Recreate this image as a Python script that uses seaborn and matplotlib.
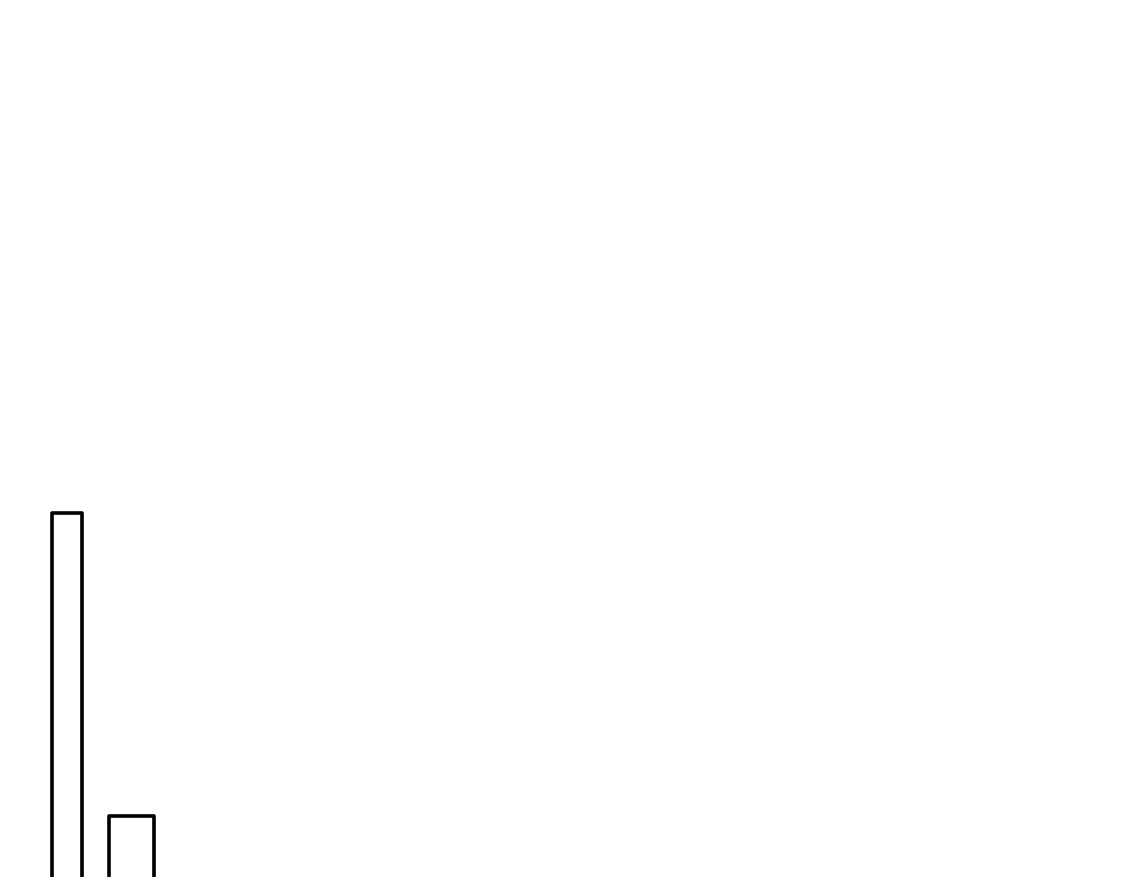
import numpy as np
import matplotlib
matplotlib.use("Agg")
import matplotlib.pyplot as plt
import seaborn as sns

# bin edges and bar heights (middle bin is empty)
bin_edges = [5.15, 8.15, 10.9, 15.35]
bar_heights = [46.45, 0.0, 16.15]

# the chart is cropped: baseline sits below the visible area
y_visible = (10, 97.8)
x_visible = (0, 112.5)

bin_centers = [(a + b) / 2 for a, b in zip(bin_edges[:-1], bin_edges[1:])]

sns.set_style("white")
fig = plt.figure(figsize=(11.25, 8.78), dpi=100)
ax = fig.add_axes([0, 0, 1, 1])

sns.histplot(x=bin_centers, weights=bar_heights, bins=bin_edges,
             fill=False, element="bars", color="black",
             linewidth=2.6, ax=ax)

for p in ax.patches:
    p.set_joinstyle("round")

ax.set_xlim(*x_visible)
ax.set_ylim(*y_visible)
ax.axis("off")

fig.savefig("out.png", dpi=100)
